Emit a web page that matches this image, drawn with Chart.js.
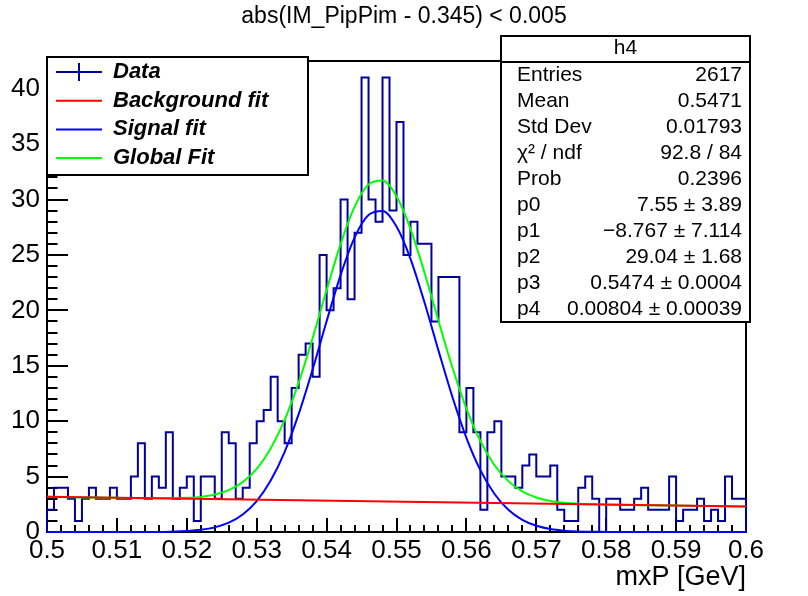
<!DOCTYPE html>
<html lang="en">
  <head>
    <meta charset="UTF-8" />
    <title>mxP [GeV] — h4</title>
    <script src="https://cdn.jsdelivr.net/npm/chart.js"></script>
    <style>
      body {
        margin: 0;
        background: #ffffff;
      }
      canvas {
        display: block;
      }
    </style>
  </head>
  <body>
    <canvas id="h4-chart" width="808" height="596"></canvas>

    <script>
      // histogram h4: 100 bins of 0.001 from 0.5 to 0.6 (bin contents)
      const binLow = 0.5;
      const binWidth = 0.001;
      const counts = [
        2, 4, 4, 3, 1, 3, 4, 3, 3, 4,
        3, 3, 5, 8, 3, 5, 4, 9, 3, 4,
        5, 1, 5, 5, 3, 9, 8, 3, 4, 8,
        10, 11, 14, 10, 8, 13, 16, 17, 14, 25,
        20, 22, 30, 21, 27, 41, 30, 28, 41, 29,
        37, 25, 28, 26, 26, 19, 23, 23, 23, 9,
        13, 9, 2, 9, 10, 5, 5, 4, 6, 7,
        5, 5, 6, 2, 1, 1, 4, 5, 3, 0,
        3, 3, 2, 2, 3, 4, 2, 2, 2, 5,
        1, 2, 2, 3, 1, 2, 1, 5, 3, 3,
      ];

      const fitX = Array.from({ length: 51 }, (_, i) => +(0.5 + i * 0.002).toFixed(3));
      const signalFit = [
        0, 0, 0, 0, 0, 0, 0, 0.01, 0.01, 0.04,
        0.09, 0.2, 0.42, 0.84, 1.58, 2.79, 4.64, 7.24, 10.63, 14.66,
        19.01, 23.18, 26.56, 28.6, 28.96, 27.56, 24.65, 20.73, 16.39, 12.18,
        8.5, 5.58, 3.45, 2.0, 1.09, 0.56, 0.27, 0.12, 0.05, 0.02,
        0.01, 0, 0, 0, 0, 0, 0, 0, 0, 0,
        0,
      ];
      const globalFit = [
        3.17, 3.15, 3.13, 3.11, 3.1, 3.08, 3.06, 3.05, 3.04, 3.04,
        3.08, 3.17, 3.38, 3.78, 4.5, 5.69, 7.53, 10.11, 13.48, 17.49,
        21.83, 25.98, 29.34, 31.36, 31.71, 30.29, 27.36, 23.42, 19.07, 14.84,
        11.14, 8.21, 6.05, 4.59, 3.66, 3.11, 2.8, 2.64, 2.55, 2.5,
        2.47, 2.45, 2.43, 2.41, 2.4, 2.38, 2.36, 2.34, 2.33, 2.31,
        2.29,
      ];
      const bkgX = [0.5, 0.6];
      const bkgFit = [3.17, 2.29];

      const titleText = "abs(IM_PipPim - 0.345) < 0.005";
      const xTitle = "mxP [GeV]";
      const legendLabels = ["Data", "Background fit", "Signal fit", "Global Fit"];
      const statName = "h4";
      const statLabels = ["Entries", "Mean", "Std Dev", "χ² / ndf", "Prob", "p0", "p1", "p2", "p3", "p4"];
      const statValues = [
        "2617", "0.5471", "0.01793", "92.8 / 84", "0.2396",
        "7.55 ± 3.89", "−8.767 ± 7.114", "29.04 ± 1.68",
        "0.5474 ± 0.0004", "0.00804 ± 0.00039",
      ];

      const FAM = '"Liberation Sans", Arial, Helvetica, sans-serif';
      const HIST_COL = "#000099";
      const SIG_COL = "#0000ff";
      const BKG_COL = "#ff0000";
      const GLO_COL = "#00ff00";

      // outline points: left edge of each bin, closed down to zero at both ends
      const histPts = [{ x: binLow, y: 0 }];
      counts.forEach((c, i) => histPts.push({ x: +(binLow + i * binWidth).toFixed(3), y: c }));
      histPts.push({ x: 0.6, y: counts[counts.length - 1] });
      histPts.push({ x: 0.6, y: 0 });

      const toPts = (xs, ys) => xs.map((x, i) => ({ x, y: ys[i] }));

      // frame, inward ticks, title, legend and stats box (ROOT look)
      const rootDecor = {
        id: "rootDecor",
        beforeDatasetsDraw(chart) {
          const { ctx, chartArea: a, scales } = chart;
          const x = scales.x, y = scales.y;
          ctx.save();
          ctx.strokeStyle = "#000";
          ctx.lineWidth = 2;
          ctx.strokeRect(a.left, a.top, a.right - a.left, a.bottom - a.top);
          ctx.beginPath();
          for (let i = 0; i <= 50; i++) {
            const px = Math.round(x.getPixelForValue(0.5 + i * 0.002));
            const len = i % 5 === 0 ? 14 : 7;
            ctx.moveTo(px, a.bottom);
            ctx.lineTo(px, a.bottom - len);
          }
          for (let v = 0; v <= 42; v++) {
            const py = Math.round(y.getPixelForValue(v));
            const len = v % 5 === 0 ? 21 : 10.5;
            ctx.moveTo(a.left, py);
            ctx.lineTo(a.left + len, py);
          }
          ctx.stroke();
          ctx.restore();
        },
        afterDraw(chart) {
          const ctx = chart.ctx;
          ctx.save();
          ctx.fillStyle = "#000";
          ctx.textBaseline = "middle";

          // title
          ctx.font = "23px " + FAM;
          ctx.textAlign = "center";
          ctx.fillText(titleText, 404, 17);

          // legend
          ctx.fillStyle = "#fff";
          ctx.fillRect(47, 57, 261, 118);
          ctx.strokeStyle = "#000";
          ctx.lineWidth = 2;
          ctx.strokeRect(47, 57, 261, 118);
          const cols = [HIST_COL, BKG_COL, SIG_COL, GLO_COL];
          ctx.font = "italic bold 22px " + FAM;
          ctx.textAlign = "left";
          legendLabels.forEach((lab, i) => {
            const ly = 72 + i * 28.7;
            ctx.strokeStyle = cols[i];
            ctx.lineWidth = 2;
            ctx.beginPath();
            ctx.moveTo(56, ly);
            ctx.lineTo(102, ly);
            if (i === 0) {
              ctx.moveTo(79, ly - 9);
              ctx.lineTo(79, ly + 9);
            }
            ctx.stroke();
            ctx.fillStyle = "#000";
            ctx.fillText(lab, 113, ly);
          });

          // stats box
          ctx.fillStyle = "#fff";
          ctx.fillRect(501, 36, 249, 286);
          ctx.strokeStyle = "#000";
          ctx.lineWidth = 2;
          ctx.strokeRect(501, 36, 249, 286);
          ctx.beginPath();
          ctx.moveTo(501, 62);
          ctx.lineTo(750, 62);
          ctx.stroke();
          ctx.fillStyle = "#000";
          ctx.font = "21px " + FAM;
          ctx.textAlign = "center";
          ctx.fillText(statName, 625.5, 48);
          statLabels.forEach((lab, i) => {
            const ry = 75 + i * 26;
            ctx.textAlign = "left";
            ctx.fillText(lab, 517, ry);
            ctx.textAlign = "right";
            ctx.fillText(statValues[i], 742, ry);
          });
          ctx.restore();
        },
      };

      const ctx = document.getElementById("h4-chart").getContext("2d");
      new Chart(ctx, {
        type: "line",
        data: {
          datasets: [
            {
              label: "Background fit",
              data: toPts(bkgX, bkgFit),
              borderColor: BKG_COL,
              borderWidth: 2,
              pointRadius: 0,
              order: 0,
              clip: 4,
            },
            {
              label: "Signal fit",
              data: toPts(fitX, signalFit),
              borderColor: SIG_COL,
              borderWidth: 2,
              pointRadius: 0,
              cubicInterpolationMode: "monotone",
              order: 1,
              clip: 4,
            },
            {
              label: "Global Fit",
              data: toPts(fitX, globalFit),
              borderColor: GLO_COL,
              borderWidth: 2,
              pointRadius: 0,
              cubicInterpolationMode: "monotone",
              order: 2,
              clip: 4,
            },
            {
              label: "Data",
              data: histPts,
              borderColor: HIST_COL,
              borderWidth: 2,
              pointRadius: 0,
              stepped: true,
              order: 3,
              clip: 4,
            },
          ],
        },
        options: {
          responsive: false,
          animation: false,
          layout: { padding: { top: 61, right: 62, left: 0, bottom: 0 } },
          plugins: {
            legend: { display: false },
            tooltip: { enabled: false },
            title: { display: false },
          },
          scales: {
            x: {
              type: "linear",
              min: 0.5,
              max: 0.6,
              grid: { display: false, drawTicks: false },
              border: { display: false },
              ticks: {
                stepSize: 0.01,
                autoSkip: false,
                maxRotation: 0,
                padding: 3,
                color: "#000",
                font: { family: FAM, size: 26 },
                callback: (v) => Number(v.toFixed(2)).toString(),
              },
              title: {
                display: true,
                text: xTitle,
                align: "end",
                color: "#000",
                font: { family: FAM, size: 27 },
                padding: { top: 0, bottom: 2 },
              },
              afterFit: (s) => {
                s.height = 64;
              },
            },
            y: {
              min: 0,
              max: 42.5,
              grid: { display: false, drawTicks: false },
              border: { display: false },
              ticks: {
                stepSize: 5,
                includeBounds: false,
                padding: 7,
                color: "#000",
                font: { family: FAM, size: 26 },
              },
              afterFit: (s) => {
                s.width = 47;
              },
            },
          },
        },
        plugins: [rootDecor],
      });
    </script>
  </body>
</html>
